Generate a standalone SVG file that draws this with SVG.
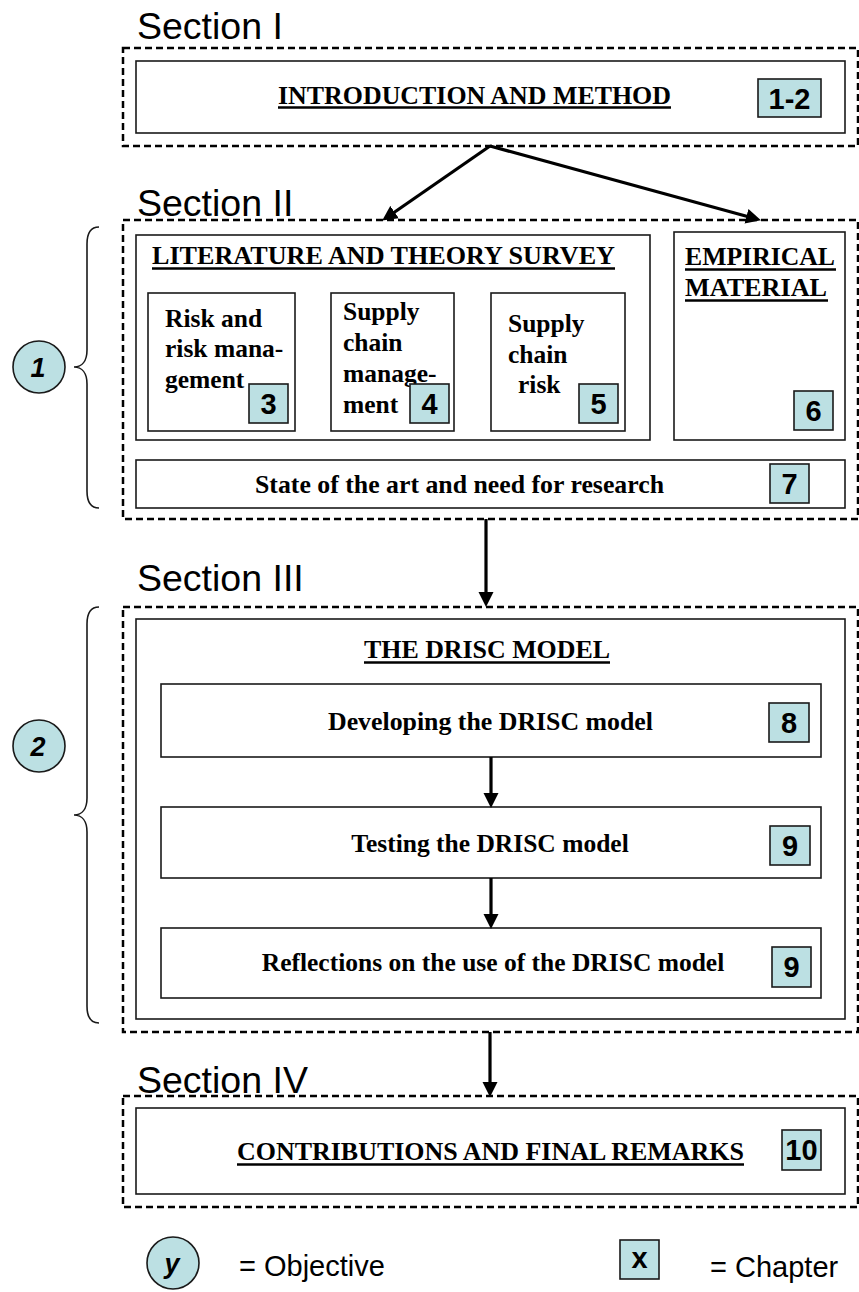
<svg xmlns="http://www.w3.org/2000/svg" width="859" height="1292" viewBox="0 0 859 1292">
<defs>
<style>
.sec{font-family:"Liberation Sans",Arial,sans-serif;font-size:37.5px;fill:#000}
.dash{fill:none;stroke:#000;stroke-width:2.5;stroke-dasharray:7,4}
.box{fill:#fff;stroke:#1a1a1a;stroke-width:1.6}
.ch{fill:#bce0e3;stroke:#1a1a1a;stroke-width:1.6}
.chn{font-family:"Liberation Sans",Arial,sans-serif;font-weight:bold;font-size:29px;text-anchor:middle;fill:#000}
.tb{font-family:"Liberation Serif","Times New Roman",serif;font-weight:bold;font-size:25.5px;fill:#000}
.mid{text-anchor:middle}
.ul{stroke:#000;stroke-width:2.5}
.obj{fill:#bce0e3;stroke:#1a1a1a;stroke-width:1.6}
.objn{font-family:"Liberation Sans",Arial,sans-serif;font-weight:bold;font-style:italic;font-size:27px;text-anchor:middle;fill:#000}
.brace{fill:none;stroke:#1a1a1a;stroke-width:1.6}
.leg{font-family:"Liberation Sans",Arial,sans-serif;font-size:29px;fill:#000}
.arr{stroke:#000;stroke-width:3.2;fill:none}
</style>
<marker id="ah" markerUnits="userSpaceOnUse" markerWidth="15" markerHeight="16" refX="2" refY="8" orient="auto">
<path d="M0,0.5 L15,8 L0,15.5 z" fill="#000"/>
</marker>
</defs>

<!-- Section I -->
<g id="section1">
<text class="sec" x="137" y="39">Section I</text>
<rect class="dash" x="123" y="48" width="735" height="98"/>
<g id="intro">
<rect class="box" x="136" y="61" width="709" height="72"/>
<text class="tb mid" x="474.5" y="104" textLength="393" lengthAdjust="spacingAndGlyphs">INTRODUCTION AND METHOD</text>
<line class="ul" x1="278" y1="107.5" x2="671" y2="107.5"/>
<rect class="ch" x="758" y="79" width="63" height="38"/>
<text class="chn" x="789.5" y="108.5">1-2</text>
</g>
</g>

<!-- Section II -->
<g id="section2">
<text class="sec" x="137" y="216">Section II</text>
<rect class="dash" x="123" y="220" width="735" height="299"/>
<g id="literature">
<rect class="box" x="136" y="235" width="514" height="205"/>
<text class="tb mid" x="383.5" y="264" textLength="463" lengthAdjust="spacingAndGlyphs">LITERATURE AND THEORY SURVEY</text>
<line class="ul" x1="152" y1="268.5" x2="615" y2="268.5"/>
</g>
<g id="risk">
<rect class="box" x="148" y="293" width="147" height="138"/>
<text class="tb" x="165" y="327">Risk and</text>
<text class="tb" x="165" y="357">risk mana-</text>
<text class="tb" x="165" y="388">gement</text>
<rect class="ch" x="249" y="384" width="39" height="39"/>
<text class="chn" x="268.5" y="414">3</text>
</g>
<g id="scm">
<rect class="box" x="331" y="293" width="123" height="138"/>
<text class="tb" x="343" y="320">Supply</text>
<text class="tb" x="343" y="351">chain</text>
<text class="tb" x="343" y="382">manage-</text>
<text class="tb" x="343" y="413">ment</text>
<rect class="ch" x="410" y="384" width="39" height="39"/>
<text class="chn" x="429.5" y="414">4</text>
</g>
<g id="scr">
<rect class="box" x="491" y="293" width="134" height="138"/>
<text class="tb" x="508" y="332">Supply</text>
<text class="tb" x="508" y="363">chain</text>
<text class="tb" x="518" y="393">risk</text>
<rect class="ch" x="579" y="384" width="39" height="39"/>
<text class="chn" x="598.5" y="414">5</text>
</g>
<g id="empirical">
<rect class="box" x="674" y="232" width="171" height="208"/>
<text class="tb" x="685" y="265" textLength="150" lengthAdjust="spacingAndGlyphs">EMPIRICAL</text>
<line class="ul" x1="685" y1="269.5" x2="836" y2="269.5"/>
<text class="tb" x="685" y="296" textLength="142" lengthAdjust="spacingAndGlyphs">MATERIAL</text>
<line class="ul" x1="685" y1="300.5" x2="828" y2="300.5"/>
<rect class="ch" x="794" y="391" width="39" height="39"/>
<text class="chn" x="813.5" y="421">6</text>
</g>
<g id="stateart">
<rect class="box" x="136" y="460" width="709" height="48"/>
<text class="tb mid" x="459.5" y="493" textLength="409" lengthAdjust="spacingAndGlyphs">State of the art and need for research</text>
<rect class="ch" x="770" y="464" width="39" height="39"/>
<text class="chn" x="789.5" y="494">7</text>
</g>
</g>

<!-- Objective 1 -->
<g id="objective1">
<path class="brace" d="M99,227 C91,227 87,232 87,244 L87,350 C87,361 82,367 74,367 C82,367 87,373 87,384 L87,491 C87,503 91,508 99,508"/>
<circle class="obj" cx="39" cy="367" r="26"/>
<text class="objn" x="38" y="377">1</text>
</g>

<!-- Section III -->
<g id="section3">
<text class="sec" x="137" y="591">Section III</text>
<rect class="dash" x="123" y="607" width="735" height="425"/>
<g id="drisc">
<rect class="box" x="136" y="619" width="709" height="400"/>
<text class="tb mid" x="487" y="658" textLength="246" lengthAdjust="spacingAndGlyphs">THE DRISC MODEL</text>
<line class="ul" x1="364" y1="662.5" x2="610" y2="662.5"/>
</g>
<g id="developing">
<rect class="box" x="161" y="684" width="660" height="73"/>
<text class="tb mid" x="490.5" y="730" textLength="325" lengthAdjust="spacingAndGlyphs">Developing the DRISC model</text>
<rect class="ch" x="769" y="703" width="40" height="39"/>
<text class="chn" x="789" y="733">8</text>
</g>
<g id="testing">
<rect class="box" x="161" y="807" width="660" height="71"/>
<text class="tb mid" x="490" y="852">Testing the DRISC model</text>
<rect class="ch" x="770" y="826" width="40" height="39"/>
<text class="chn" x="790" y="856">9</text>
</g>
<g id="reflections">
<rect class="box" x="161" y="928" width="660" height="70"/>
<text class="tb mid" x="493" y="971">Reflections on the use of the DRISC model</text>
<rect class="ch" x="772" y="947" width="39" height="40"/>
<text class="chn" x="791.5" y="977">9</text>
</g>
</g>

<!-- Objective 2 -->
<g id="objective2">
<path class="brace" d="M99,607 C91,607 87,612 87,624 L87,798 C87,809 82,815 74,815 C82,815 87,821 87,832 L87,1006 C87,1018 91,1023 99,1023"/>
<circle class="obj" cx="39" cy="746" r="26"/>
<text class="objn" x="38" y="756">2</text>
</g>

<!-- Section IV -->
<g id="section4">
<text class="sec" x="137" y="1093">Section IV</text>
<rect class="dash" x="123" y="1096" width="735" height="111"/>
<g id="contributions">
<rect class="box" x="136" y="1108" width="709" height="86"/>
<text class="tb mid" x="490.5" y="1160" textLength="507" lengthAdjust="spacingAndGlyphs">CONTRIBUTIONS AND FINAL REMARKS</text>
<line class="ul" x1="237" y1="1164.5" x2="744" y2="1164.5"/>
<rect class="ch" x="782" y="1130" width="39" height="40"/>
<text class="chn" x="801.5" y="1160">10</text>
</g>
</g>

<!-- Connectors -->
<g id="connectors">
<line class="arr" x1="490" y1="146" x2="392.9" y2="213.2" marker-end="url(#ah)"/>
<line class="arr" x1="490" y1="146" x2="748.4" y2="216.8" marker-end="url(#ah)"/>
<line class="arr" x1="486" y1="519" x2="486" y2="594" marker-end="url(#ah)"/>
<line class="arr" x1="491" y1="757" x2="491" y2="795" marker-end="url(#ah)"/>
<line class="arr" x1="491" y1="878" x2="491" y2="916" marker-end="url(#ah)"/>
<line class="arr" x1="490" y1="1032" x2="490" y2="1084" marker-end="url(#ah)"/>
</g>

<!-- Legend -->
<g id="legend">
<circle class="obj" cx="173" cy="1263" r="26"/>
<text class="objn" x="172" y="1273">y</text>
<text class="leg" x="239" y="1276">= Objective</text>
<rect class="ch" x="620" y="1240" width="39" height="39"/>
<text class="chn" x="639.5" y="1268">x</text>
<text class="leg" x="710" y="1277">= Chapter</text>
</g>
</svg>
